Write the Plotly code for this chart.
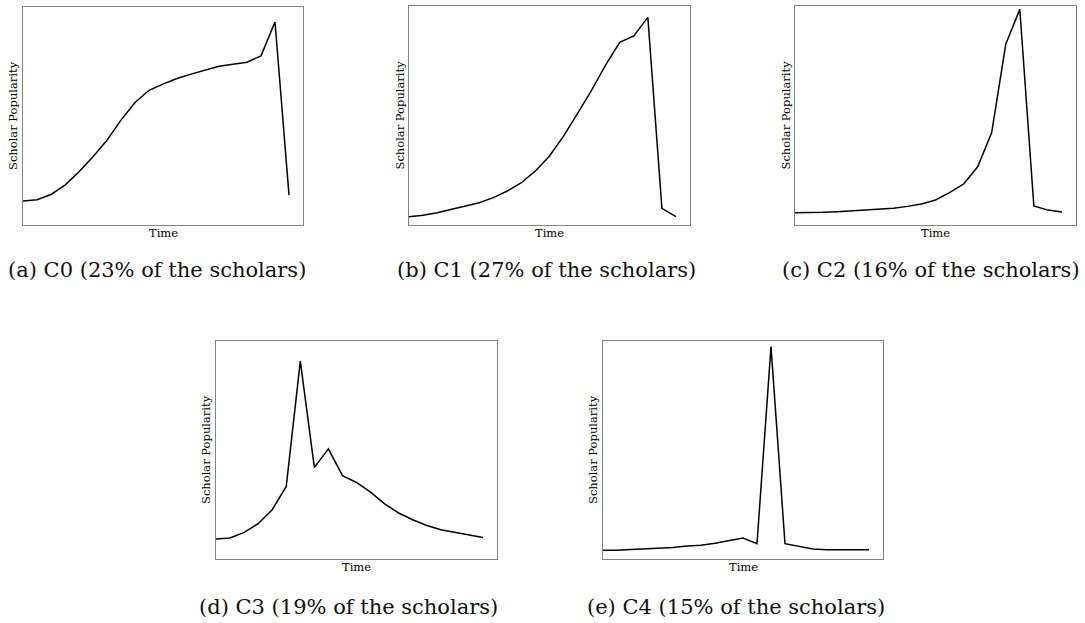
import plotly.graph_objects as go

# ---------------- data ----------------
time_index = list(range(20))

c0_popularity = [11.0, 11.6, 14.0, 18.3, 24.4, 31.3, 38.9, 48.1, 56.2, 61.8,
                 64.6, 67.2, 69.2, 71.0, 72.8, 73.7, 74.7, 77.6, 93.1, 13.7]
c1_popularity = [3.8, 4.4, 5.6, 7.2, 8.7, 10.2, 12.5, 15.5, 19.3, 24.7,
                 31.5, 40.6, 51.0, 61.6, 73.1, 83.4, 86.3, 94.8, 7.6, 3.8]
c2_popularity = [5.6, 5.6, 5.8, 6.1, 6.4, 7.0, 7.3, 7.6, 8.5, 9.6,
                 11.4, 14.8, 18.7, 26.6, 42.2, 82.5, 98.5, 8.7, 6.8, 5.9]
c3_popularity = [9.2, 9.6, 12.2, 16.2, 22.6, 33.3, 90.8, 42.0, 50.5, 38.2,
                 35.1, 30.7, 25.3, 21.1, 18.0, 15.4, 13.4, 12.2, 11.0, 9.9]
c4_popularity = [4.0, 4.0, 4.4, 4.7, 5.0, 5.3, 6.0, 6.3, 7.2, 8.4,
                 9.6, 7.0, 97.4, 7.0, 5.8, 4.6, 4.3, 4.3, 4.0, 4.3]

captions = [
    "(a) C0 (23% of the scholars)",
    "(b) C1 (27% of the scholars)",
    "(c) C2 (16% of the scholars)",
    "(d) C3 (19% of the scholars)",
    "(e) C4 (15% of the scholars)",
]
x_title = "Time"
y_title = "Scholar Popularity"

series = [c0_popularity, c1_popularity, c2_popularity, c3_popularity, c4_popularity]

# ---------------- layout ----------------
W, H = 1085, 623
FONT = "DejaVu Serif"
# panel boxes in pixels: left, right, top, bottom
boxes = [(23, 303, 7, 225), (409, 690, 6, 225), (795, 1076, 6, 225),
         (216, 497, 341, 559), (603, 883, 341, 559)]
caption_pos = [(157, 270), (546, 270), (931, 270), (348, 607), (736, 607)]

fig = go.Figure()
layout_axes = {}
annotations = []
for i, (vals, box) in enumerate(zip(series, boxes)):
    n = i + 1
    sfx = "" if n == 1 else str(n)
    l, r, t, b = box
    fig.add_trace(go.Scatter(
        x=time_index, y=vals, mode="lines",
        line=dict(color="black", width=1.5),
        xaxis="x" + sfx, yaxis="y" + sfx,
        showlegend=False, hoverinfo="skip"))
    common = dict(showline=True, mirror=True, linecolor="#858585", linewidth=1,
                  showgrid=False, zeroline=False, showticklabels=False,
                  ticks="", fixedrange=True)
    layout_axes["xaxis" + sfx] = dict(domain=[l / W, r / W], range=[0, 20],
                                      anchor="y" + sfx, **common)
    layout_axes["yaxis" + sfx] = dict(domain=[1 - b / H, 1 - t / H], range=[0, 100],
                                      anchor="x" + sfx, **common)
    annotations.append(dict(text=x_title, xref="paper", yref="paper",
                            x=(l + r) / 2 / W, y=1 - (b + 8) / H,
                            xanchor="center", yanchor="middle", showarrow=False,
                            font=dict(family=FONT, size=11.5, color="black")))
    annotations.append(dict(text=y_title, xref="paper", yref="paper",
                            x=(l - 10) / W, y=1 - (t + b) / 2 / H, textangle=-90,
                            xanchor="center", yanchor="middle", showarrow=False,
                            font=dict(family=FONT, size=11.5, color="black")))
    cx, cy = caption_pos[i]
    annotations.append(dict(text=captions[i], xref="paper", yref="paper",
                            x=cx / W, y=1 - cy / H,
                            xanchor="center", yanchor="middle", showarrow=False,
                            font=dict(family=FONT, size=21, color="#111111")))

fig.update_layout(
    width=W, height=H,
    margin=dict(l=0, r=0, t=0, b=0),
    paper_bgcolor="white", plot_bgcolor="white",
    annotations=annotations,
    **layout_axes,
)

fig.write_html("out.html",
               config={"displayModeBar": False, "staticPlot": True},
               post_script="document.body.style.margin='0';document.body.style.overflow='hidden';")
